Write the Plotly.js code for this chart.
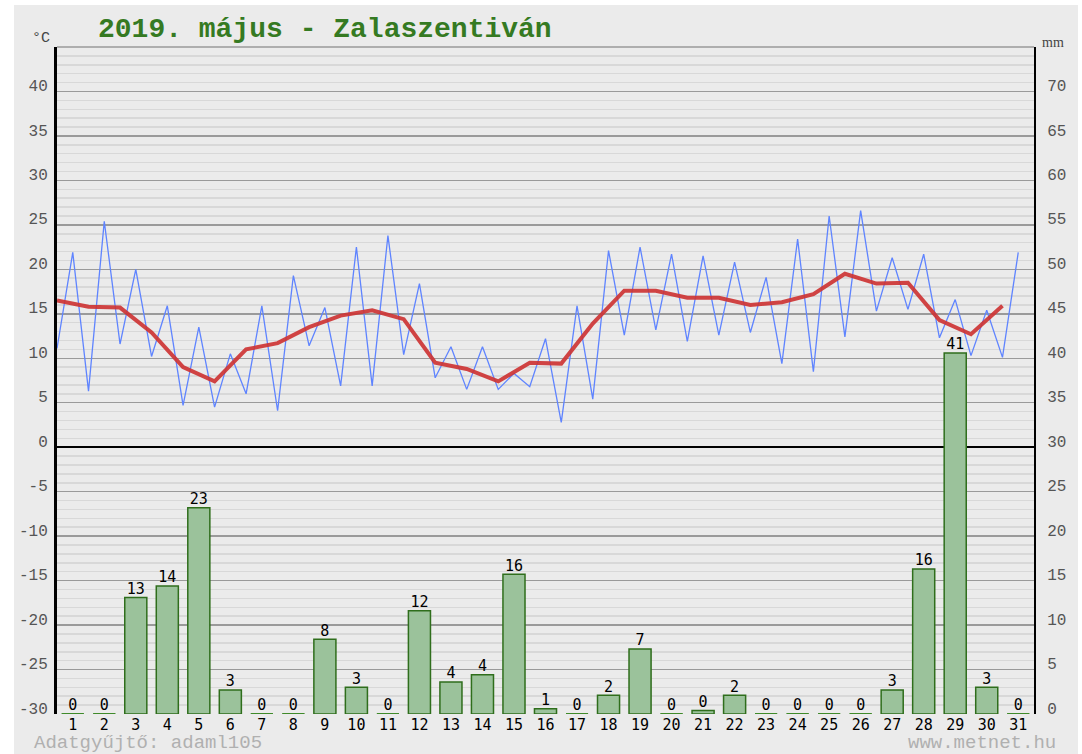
<!DOCTYPE html>
<html>
<head>
<meta charset="utf-8">
<script src="https://cdn.plot.ly/plotly-3.0.1.min.js"></script>
<style>html,body{margin:0;padding:0;background:#fff;}#chart{width:1082px;height:754px;}</style>
</head>
<body>
<div id="chart"></div>
<script>
// Days of May 2019
const days = [1,2,3,4,5,6,7,8,9,10,11,12,13,14,15,16,17,18,19,20,21,22,23,24,25,26,27,28,29,30,31];
// Daily minimum temperature (°C)
const tMin = [11.1,6.3,11.6,10.2,4.7,4.5,6.0,4.1,11.4,6.9,6.9,10.4,7.8,6.5,6.5,6.8,2.8,5.4,12.6,13.2,11.9,12.6,12.9,9.4,8.5,12.4,15.3,15.5,12.3,10.3,10.1];
// Daily maximum temperature (°C)
const tMax = [21.9,25.4,20.0,15.9,13.5,10.5,15.9,19.3,15.7,22.5,23.8,18.4,11.3,11.3,8.3,12.2,15.9,22.1,22.5,21.7,21.5,20.8,19.1,23.4,26.0,26.6,21.3,21.7,16.6,15.4,21.9];
// Daily mean temperature (°C)
const tMean = [16.5,15.8,15.7,12.9,9.0,7.4,11.0,11.7,13.5,14.8,15.4,14.4,9.5,8.8,7.4,9.5,9.4,13.9,17.6,17.6,16.8,16.8,16.0,16.3,17.2,19.5,18.4,18.5,14.3,12.7,15.9];
// Daily precipitation (mm)
const precip = [0,0,13.1,14.4,23.2,2.7,0,0,8.4,3.0,0,11.6,3.6,4.4,15.7,0.6,0,2.1,7.3,0,0.4,2.1,0,0,0,0,2.7,16.3,40.6,3.0,0];
const precipLabels = ['0','0','13','14','23','3','0','0','8','3','0','12','4','4','16','1','0','2','7','0','0','2','0','0','0','0','3','16','41','3','0'];
const tempTicks = [-30,-25,-20,-15,-10,-5,0,5,10,15,20,25,30,35,40,45];
const tempTickText = ['-30','-25','-20','-15','-10','-5','0','5','10','15','20','25','30','35','40',''];
const mmTicks = [0,5,10,15,20,25,30,35,40,45,50,55,60,65,70];

// min plotted half a day before the day, max at the day
const blueX = [], blueY = [];
days.forEach((d, i) => { blueX.push(d - 0.5, d); blueY.push(tMin[i], tMax[i]); });
const redX = days.map(d => d - 0.5);

const zx = [], zy = [];
days.forEach((d, i) => { if (precip[i] === 0) { zx.push(d - 0.35, d + 0.35, null); zy.push(0, 0, null); } });

const MONO = 'Liberation Mono, monospace';
const traces = [
  {type:'bar', x: days, y: precip, yaxis:'y2', width:0.7,
   marker:{color:'#9bc29b', line:{color:'#2f6e1c', width:1.5}}, hoverinfo:'skip'},
  {type:'scatter', mode:'lines', x: zx, y: zy, yaxis:'y2',
   line:{color:'#3f8a2a', width:2}, hoverinfo:'skip', cliponaxis:false},
  {type:'scatter', mode:'lines', x: blueX, y: blueY,
   line:{color:'#5f84ff', width:1.3}, hoverinfo:'skip'},
  {type:'scatter', mode:'lines', x: redX, y: tMean,
   line:{color:'rgba(205,52,52,0.92)', width:4}, hoverinfo:'skip'},
  {type:'scatter', mode:'text', x: days, y: precip, yaxis:'y2', text: precipLabels,
   textposition:'top center', textfont:{family:'DejaVu Sans Mono, monospace', size:15, color:'#000'},
   hoverinfo:'skip', cliponaxis:false}
];

const layout = {
  width:1082, height:754,
  margin:{l:57, r:48, t:47, b:40},
  paper_bgcolor:'#ffffff', plot_bgcolor:'#ebebeb',
  showlegend:false,
  title:{text:'<b>2019. május - Zalaszentiván</b>', x:98/1082, xanchor:'left', xref:'container',
         y:1-27/754, yanchor:'middle', yref:'container',
         font:{family:MONO, size:28, color:'#357a22'}},
  xaxis:{range:[0.5,31.5], tickmode:'array', tickvals:days, ticktext:days.map(String),
         showgrid:false, zeroline:false, showline:false, ticks:'',
         tickfont:{family:'DejaVu Sans Mono, monospace', size:15, color:'#000'}, fixedrange:true},
  yaxis:{range:[-30,45], tickmode:'array', tickvals:tempTicks, ticktext:tempTickText,
         showgrid:true, gridcolor:'#9a9a9a', gridwidth:1.5,
         minor:{dtick:1, tick0:0, showgrid:true, gridcolor:'#d8d8d8', gridwidth:1.5},
         zeroline:true, zerolinecolor:'#000', zerolinewidth:1.5,
         showline:true, linecolor:'#000', linewidth:3, ticks:'',
         ticklabelshift:-6, ticklabelstandoff:3,
         tickfont:{family:MONO, size:16, color:'#555'}, fixedrange:true},
  yaxis2:{range:[0,75], overlaying:'y', side:'right', tickmode:'array', tickvals:mmTicks,
          showgrid:false, zeroline:false, showline:true, linecolor:'#000', linewidth:2, ticks:'',
          ticklabelshift:-6, ticklabelstandoff:8,
          tickfont:{family:MONO, size:16, color:'#555'}, fixedrange:true},
  shapes:[
    {type:'rect', xref:'paper', yref:'paper', x0:(14-57)/977, x1:(1078-57)/977, y0:-0.07, y1:(714-5)/667,
     fillcolor:'#ebebeb', line:{width:0}, layer:'below'},
    {type:'line', xref:'paper', yref:'paper', x0:0, x1:1, y0:1, y1:1, line:{color:'#9a9a9a', width:1.5}}
  ],
  annotations:[
    {text:'°C', xref:'paper', yref:'paper', x:(52-57)/977, y:(714-39)/667, xanchor:'right', yanchor:'middle',
     showarrow:false, font:{family:MONO, size:15, color:'#444'}},
    {text:'mm', xref:'paper', yref:'paper', x:(1040-57)/977, y:(714-42)/667, xanchor:'left', yanchor:'middle',
     showarrow:false, font:{family:'Liberation Serif, serif', size:14, color:'#444'}},
    {text:'Adatgyűjtő: adaml105', xref:'paper', yref:'paper', x:(32-57)/977, y:(714-743)/667, xanchor:'left', yanchor:'middle',
     showarrow:false, font:{family:MONO, size:19, color:'#b0b0b0'}},
    {text:'www.metnet.hu', xref:'paper', yref:'paper', x:(1058-57)/977, y:(714-743)/667, xanchor:'right', yanchor:'middle',
     showarrow:false, font:{family:MONO, size:19, color:'#b0b0b0'}}
  ]
};

Plotly.newPlot('chart', traces, layout, {staticPlot:true, displayModeBar:false});
</script>
</body>
</html>
